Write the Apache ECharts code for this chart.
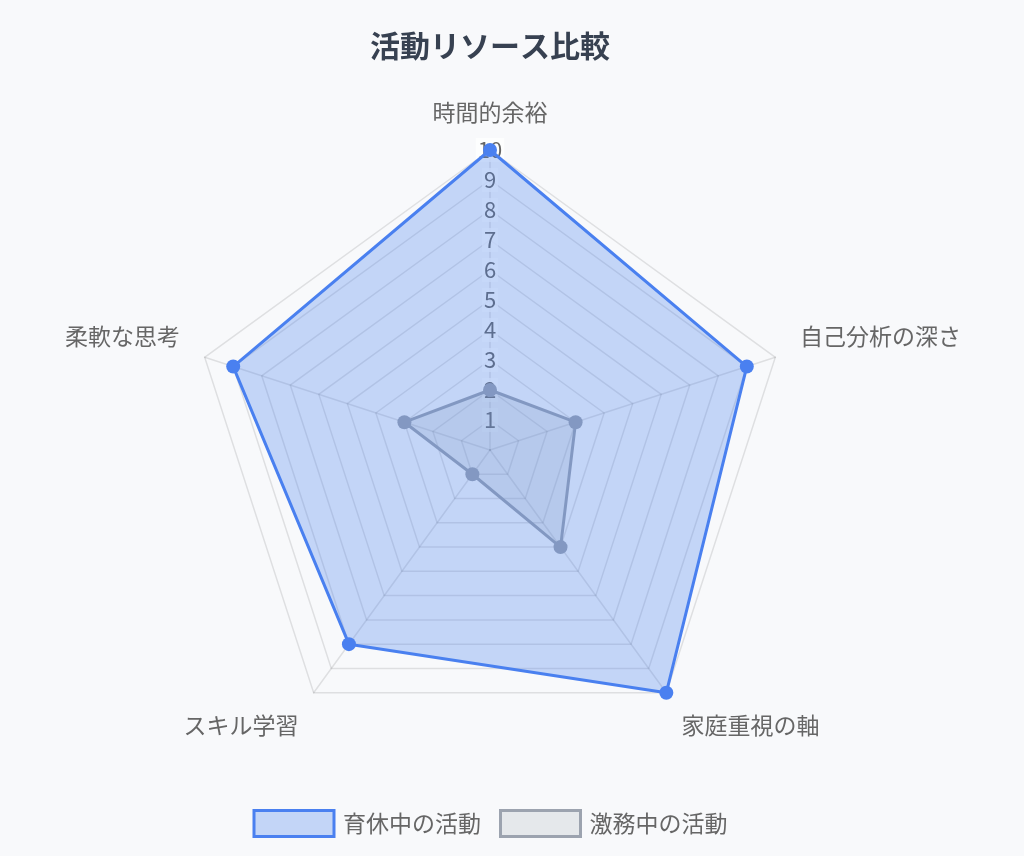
<!DOCTYPE html>
<html>
<head>
<meta charset="utf-8">
<script src="https://cdn.jsdelivr.net/npm/echarts@6/dist/echarts.min.js"></script>
<style>
  html, body { margin: 0; padding: 0; background: #f8f9fb; }
  #chart { width: 980px; height: 856px; }
</style>
</head>
<body>
<div id="chart"></div>
<script>
// ---- data ----
const titleText = '活動リソース比較';
const categories = ['時間的余裕', '自己分析の深さ', '家庭重視の軸', 'スキル学習', '柔軟な思考'];
const seriesNames = ['育休中の活動', '激務中の活動'];
const ikukyuValues = [10, 9, 10, 8, 9];
const gekimuValues = [2, 3, 4, 1, 3];
const axisMax = 10;

// ECharts lays indicators counter-clockwise; reorder so they run clockwise like the reference
const order = [0, 4, 3, 2, 1];
const reorder = arr => order.map(i => arr[i]);

const FONT = '"Noto Sans CJK JP", "Noto Sans", sans-serif';
const BLUE = '#4a80f0';
const GRAY = '#9ca3af';

const sideNames = [categories[1], categories[4]];
const bottomNames = [categories[2], categories[3]];

const indicators = reorder(categories).map((name, idx) => {
  const ind = { name: name, min: 0, max: axisMax };
  if (idx !== 0) ind.axisLabel = { show: false };
  return ind;
});

const chart = echarts.init(document.getElementById('chart'));
chart.setOption({
  backgroundColor: '#f8f9fb',
  animation: false,
  title: {
    text: titleText,
    left: 'center',
    top: 26,
    textStyle: { fontFamily: FONT, fontSize: 30, fontWeight: 'bold', color: '#374151' }
  },
  legend: {
    top: 804,
    left: 'center',
    icon: 'rect',
    itemWidth: 80,
    itemHeight: 26,
    itemGap: 18,
    textStyle: { fontFamily: FONT, fontSize: 23, color: '#666666', padding: [0, 0, 0, 4] },
    data: [
      { name: seriesNames[0], itemStyle: { color: 'rgba(74,128,240,0.3)', borderColor: BLUE, borderWidth: 3 } },
      { name: seriesNames[1], itemStyle: { color: 'rgba(156,163,175,0.2)', borderColor: GRAY, borderWidth: 3 } }
    ]
  },
  radar: {
    center: [490, 450],
    radius: 300,
    startAngle: 90,
    shape: 'polygon',
    splitNumber: axisMax,
    nameGap: 26,
    z: 0,
    axisName: {
      color: '#666666', fontSize: 23, fontFamily: FONT,
      formatter: function (name) {
        if (sideNames.indexOf(name) >= 0) return '{s|' + name + '}';
        if (bottomNames.indexOf(name) >= 0) return '{b|' + name + '}';
        return name;
      },
      rich: {
        s: { color: '#666666', fontSize: 23, fontFamily: FONT, padding: [0, 0, 26, 0] },
        b: { color: '#666666', fontSize: 23, fontFamily: FONT, padding: [24, 0, 0, 0] }
      }
    },
    axisLine: { lineStyle: { color: 'rgba(0,0,0,0.1)', width: 1.5 } },
    splitLine: { lineStyle: { color: 'rgba(0,0,0,0.1)', width: 1.5 } },
    splitArea: { show: false },
    axisTick: { show: false },
    axisLabel: {
      show: true,
      showMinLabel: false,
      margin: 0,
      align: 'center',
      verticalAlign: 'middle',
      color: '#666666',
      fontSize: 22,
      fontFamily: FONT,
      backgroundColor: 'rgba(255,255,255,0.75)',
      padding: [1, 2]
    },
    indicator: indicators
  },
  series: [
    {
      name: seriesNames[1],
      type: 'radar',
      z: 1,
      symbol: 'circle',
      symbolSize: 14,
      lineStyle: { color: GRAY, width: 3 },
      itemStyle: { color: GRAY },
      areaStyle: { color: 'rgba(156,163,175,0.2)', opacity: 1 },
      data: [{ name: seriesNames[1], value: reorder(gekimuValues) }]
    },
    {
      name: seriesNames[0],
      type: 'radar',
      z: 2,
      symbol: 'circle',
      symbolSize: 14,
      lineStyle: { color: BLUE, width: 3 },
      itemStyle: { color: BLUE },
      areaStyle: { color: 'rgba(74,128,240,0.3)', opacity: 1 },
      data: [{ name: seriesNames[0], value: reorder(ikukyuValues) }]
    }
  ]
});
</script>
</body>
</html>
